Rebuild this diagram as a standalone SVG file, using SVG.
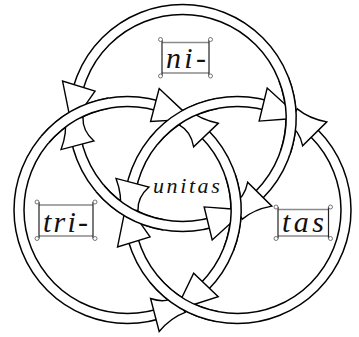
<svg xmlns="http://www.w3.org/2000/svg" width="359" height="337" viewBox="0 0 359 337">
<style>
.ln{fill:none;stroke:#000;stroke-width:1.5}
.lbl{font-family:"Liberation Serif","Times New Roman",serif;font-style:italic;font-size:30px;fill:#111}
.hb{stroke:#8a8a8a;stroke-width:1.5}
.vb{stroke:#222;stroke-width:1.2}
.hd{fill:#fff;stroke:#555;stroke-width:0.8}
</style>
<defs>
<path id="head" d="M113.48,2.09L120.73,34.26L88.02,24.98L103.48,1.91Z" fill="#fff" stroke="#000" stroke-width="1.4"/>
<path id="tail" d="M117.48,2.17Q114.74,17.05 120.73,34.26L88.02,24.98Q99.9,14.84 99.48,1.83Z" fill="#fff" stroke="#000" stroke-width="1.4"/>
<g id="over">
<path d="M101.96,-37.11A108.5,108.5 0 0 1 101.96,37.11" fill="none" stroke="#fff" stroke-width="10"/>
<path d="M106.66,-38.82A113.5,113.5 0 0 1 106.66,38.82" fill="none" stroke="#000" stroke-width="1.5"/>
<path d="M97.26,-35.4A103.5,103.5 0 0 1 97.26,35.4" fill="none" stroke="#000" stroke-width="1.5"/>
</g>
</defs>
<rect width="359" height="337" fill="#fff"/>
<g id="connectors">
<g id="ring-top">
<circle class="ln" cx="182.5" cy="118" r="113.5"/>
<circle class="ln" cx="182.5" cy="118" r="103.5"/>
</g>
<g id="ring-left">
<circle class="ln" cx="127.5" cy="210" r="113.5"/>
<circle class="ln" cx="127.5" cy="210" r="103.5"/>
</g>
<g id="ring-right">
<circle class="ln" cx="237.5" cy="210" r="113.5"/>
<circle class="ln" cx="237.5" cy="210" r="103.5"/>
</g>
<g id="arrows">
<g transform="translate(182.5,118) rotate(181.27)"><use href="#head"/><use href="#tail" transform="scale(1,-1)"/></g>
<g transform="translate(182.5,118) rotate(60.47)"><use href="#head"/><use href="#tail" transform="scale(1,-1)"/></g>
<g transform="translate(237.5,210) rotate(-60.47)"><use href="#head" transform="scale(1,-1)"/><use href="#tail"/></g>
<g transform="translate(237.5,210) rotate(178.73)"><use href="#head" transform="scale(1,-1)"/><use href="#tail"/></g>
<g transform="translate(127.5,210) rotate(-59.54)"><use href="#head" transform="scale(1,-1)"/><use href="#tail"/></g>
<g transform="translate(127.5,210) rotate(59.54)"><use href="#head" transform="scale(1,-1)"/><use href="#tail"/></g>
</g>
<g id="overpasses">
<use href="#over" transform="translate(127.5,210) rotate(-119.53)"/>
<use href="#over" transform="translate(182.5,118) rotate(-1.27)"/>
<use href="#over" transform="translate(237.5,210) rotate(-120.46)"/>
<use href="#over" transform="translate(182.5,118) rotate(119.53)"/>
<use href="#over" transform="translate(127.5,210) rotate(1.27)"/>
<use href="#over" transform="translate(237.5,210) rotate(120.46)"/>
</g>
</g>
<g id="label-ni">
<line class="hb" x1="162" y1="42.5" x2="209" y2="42.5"/>
<line class="hb" x1="162" y1="73" x2="209" y2="73"/>
<line class="vb" x1="162" y1="39.5" x2="162" y2="76"/>
<line class="vb" x1="209" y1="39.5" x2="209" y2="76"/>
<circle class="hd" cx="160.5" cy="39.5" r="2"/><circle class="hd" cx="210.5" cy="39.5" r="2"/>
<circle class="hd" cx="160.5" cy="76" r="2"/><circle class="hd" cx="210.5" cy="76" r="2"/>
<text class="lbl" x="166" y="68" letter-spacing="3.3">ni-</text>
</g>
<g id="label-tri">
<line class="hb" x1="39" y1="205" x2="93" y2="205"/>
<line class="hb" x1="39" y1="236" x2="93" y2="236"/>
<line class="vb" x1="39" y1="202" x2="39" y2="238.5"/>
<line class="vb" x1="93" y1="202" x2="93" y2="238.5"/>
<circle class="hd" cx="37" cy="202" r="2"/><circle class="hd" cx="95" cy="202" r="2"/>
<circle class="hd" cx="37" cy="238.5" r="2"/><circle class="hd" cx="95" cy="238.5" r="2"/>
<text class="lbl" x="43" y="232" letter-spacing="2.2">tri-</text>
</g>
<g id="label-tas">
<line class="hb" x1="278" y1="209.5" x2="328.5" y2="209.5"/>
<line class="hb" x1="278" y1="236" x2="328.5" y2="236"/>
<line class="vb" x1="278" y1="207" x2="278" y2="238.5"/>
<line class="vb" x1="328.5" y1="207" x2="328.5" y2="238.5"/>
<circle class="hd" cx="276" cy="207" r="2"/><circle class="hd" cx="330.5" cy="207" r="2"/>
<circle class="hd" cx="276" cy="238.5" r="2"/><circle class="hd" cx="330.5" cy="238.5" r="2"/>
<text class="lbl" x="282" y="232" letter-spacing="3.5">tas</text>
</g>
<g id="label-unitas">
<text class="lbl" x="153" y="193" style="font-size:22px" letter-spacing="2.6">unitas</text>
</g>
</svg>
